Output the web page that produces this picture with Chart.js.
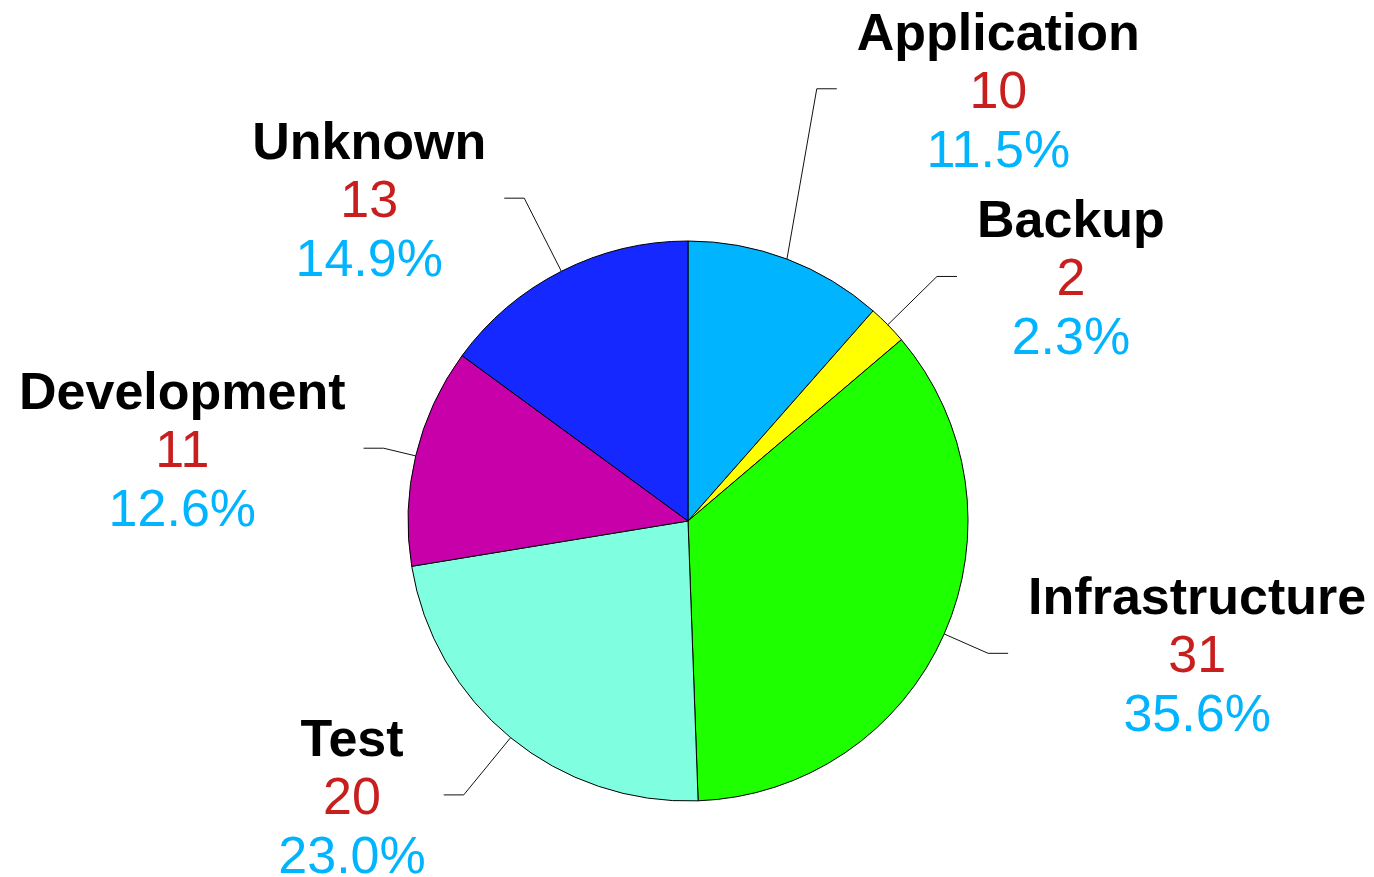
<!DOCTYPE html>
<html>
<head>
<meta charset="utf-8">
<script src="https://cdn.jsdelivr.net/npm/chart.js@4"></script>
<style>
  html, body { margin: 0; padding: 0; background: #fff; }
  #wrap { width: 1374px; height: 877px; }
</style>
</head>
<body>
<div id="wrap"><canvas id="pieChart" width="1374" height="877"></canvas></div>
<script>
// data
var categories = ["Application", "Backup", "Infrastructure", "Test", "Development", "Unknown"];
var counts = [10, 2, 31, 20, 11, 13];
var sliceColors = ["#00B4FF", "#FFFF00", "#1EFF00", "#7FFFDF", "#C800AA", "#1428FF"];

// leader elbow placement per slice (layout only): distance beyond rim, angle nudge in degrees
var elbowExtra = [171, 69, 48, 74, 33, 82];
var elbowNudge = [-4.1, 0, 0, 0, 0, 0];

var total = counts.reduce(function (a, b) { return a + b; }, 0);

// labels with leader lines
var calloutPlugin = {
    id: "callouts",
    afterDraw: function (chart) {
        var ctx = chart.ctx;
        var meta = chart.getDatasetMeta(0);
        ctx.save();
        meta.data.forEach(function (arc, i) {
            var p = arc.getProps(["x", "y", "startAngle", "endAngle", "outerRadius"], true);
            var mid = (p.startAngle + p.endAngle) / 2;
            var x0 = p.x + Math.cos(mid) * p.outerRadius;
            var y0 = p.y + Math.sin(mid) * p.outerRadius;
            var a1 = mid + elbowNudge[i] * Math.PI / 180;
            var r1 = p.outerRadius + elbowExtra[i];
            var x1 = p.x + Math.cos(a1) * r1;
            var y1 = p.y + Math.sin(a1) * r1;
            var right = Math.cos(mid) >= 0;
            var x2 = x1 + (right ? 20 : -20);

            ctx.strokeStyle = "#111";
            ctx.lineWidth = 1;
            ctx.beginPath();
            ctx.moveTo(x0, y0);
            ctx.lineTo(x1, y1);
            ctx.lineTo(x2, y1);
            ctx.stroke();

            var name = categories[i];
            var val = String(counts[i]);
            var pct = (counts[i] / total * 100).toFixed(1) + "%";

            ctx.font = "bold 52px 'Liberation Sans', Arial, sans-serif";
            var w1 = ctx.measureText(name).width;
            ctx.font = "52px 'Liberation Sans', Arial, sans-serif";
            var w2 = ctx.measureText(val).width;
            var w3 = ctx.measureText(pct).width;
            var bw = Math.max(w1, w2, w3);
            var cx = right ? x2 + 20 + bw / 2 : x2 - 18 - bw / 2;
            var base = y1 + 19;

            ctx.textAlign = "center";
            ctx.textBaseline = "alphabetic";
            ctx.font = "bold 52px 'Liberation Sans', Arial, sans-serif";
            ctx.fillStyle = "#000";
            ctx.fillText(name, cx, base - 58);
            ctx.font = "52px 'Liberation Sans', Arial, sans-serif";
            ctx.fillStyle = "#C81E1E";
            ctx.fillText(val, cx, base);
            ctx.fillStyle = "#00B4FF";
            ctx.fillText(pct, cx, base + 59);
        });
        ctx.restore();
    }
};

var pieChart = new Chart(document.getElementById("pieChart").getContext("2d"), {
    type: "pie",
    data: {
        labels: categories,
        datasets: [{
            data: counts,
            backgroundColor: sliceColors,
            borderColor: "#000",
            borderWidth: 1,
            hoverOffset: 0
        }]
    },
    options: {
        responsive: false,
        animation: false,
        radius: 280,
        layout: { padding: { left: 408, right: 406, top: 241, bottom: 76 } },
        plugins: {
            legend: { display: false },
            tooltip: { enabled: false }
        }
    },
    plugins: [calloutPlugin]
});
</script>
</body>
</html>
